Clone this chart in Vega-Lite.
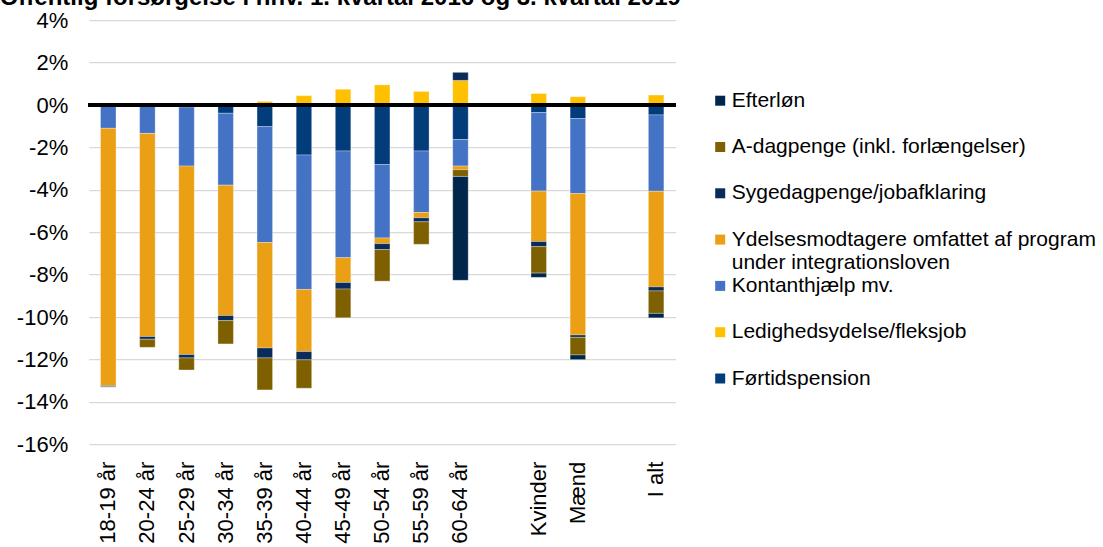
{
  "$schema": "https://vega.github.io/schema/vega-lite/v6.json",
  "width": 587,
  "height": 424,
  "autosize": {"type": "none"},
  "padding": {"left": 88.7, "top": 20.2, "right": 427.3, "bottom": 102.8},
  "background": "white",
  "title": {
    "text": "Offentlig forsørgelse i hhv. 1. kvartal 2016 og 3. kvartal 2019",
    "anchor": "start",
    "frame": "group",
    "dx": -89,
    "dy": 5,
    "fontSize": 24,
    "font": "Liberation Sans",
    "fontWeight": "bold",
    "color": "#000000"
  },
  "config": {
    "font": "Liberation Sans",
    "view": {"stroke": null}
  },
  "datasets": {
    "serier": [
      {"ydelse": "Førtidspension", "nr": 1},
      {"ydelse": "Ledighedsydelse/fleksjob", "nr": 2},
      {"ydelse": "Kontanthjælp mv.", "nr": 3},
      {"ydelse": "Ydelsesmodtagere omfattet af program under integrationsloven", "nr": 4},
      {"ydelse": "Sygedagpenge/jobafklaring", "nr": 5},
      {"ydelse": "A-dagpenge (inkl. forlængelser)", "nr": 6},
      {"ydelse": "Efterløn", "nr": 7}
    ],
    "rader": [
      {"gruppe": "18-19 år", "ydelse": "Førtidspension", "v": -0.05},
      {"gruppe": "18-19 år", "ydelse": "Kontanthjælp mv.", "v": -1.05},
      {"gruppe": "18-19 år", "ydelse": "Ydelsesmodtagere omfattet af program under integrationsloven", "v": -12.14},
      {"gruppe": "18-19 år", "ydelse": "Sygedagpenge/jobafklaring", "v": -0.05},
      {"gruppe": "18-19 år", "ydelse": "A-dagpenge (inkl. forlængelser)", "v": -0.02},

      {"gruppe": "20-24 år", "ydelse": "Førtidspension", "v": -0.03},
      {"gruppe": "20-24 år", "ydelse": "Kontanthjælp mv.", "v": -1.31},
      {"gruppe": "20-24 år", "ydelse": "Ydelsesmodtagere omfattet af program under integrationsloven", "v": -9.58},
      {"gruppe": "20-24 år", "ydelse": "Sygedagpenge/jobafklaring", "v": -0.13},
      {"gruppe": "20-24 år", "ydelse": "A-dagpenge (inkl. forlængelser)", "v": -0.38},

      {"gruppe": "25-29 år", "ydelse": "Førtidspension", "v": -0.1},
      {"gruppe": "25-29 år", "ydelse": "Kontanthjælp mv.", "v": -2.78},
      {"gruppe": "25-29 år", "ydelse": "Ydelsesmodtagere omfattet af program under integrationsloven", "v": -8.89},
      {"gruppe": "25-29 år", "ydelse": "Sygedagpenge/jobafklaring", "v": -0.16},
      {"gruppe": "25-29 år", "ydelse": "A-dagpenge (inkl. forlængelser)", "v": -0.57},

      {"gruppe": "30-34 år", "ydelse": "Førtidspension", "v": -0.39},
      {"gruppe": "30-34 år", "ydelse": "Kontanthjælp mv.", "v": -3.39},
      {"gruppe": "30-34 år", "ydelse": "Ydelsesmodtagere omfattet af program under integrationsloven", "v": -6.15},
      {"gruppe": "30-34 år", "ydelse": "Sygedagpenge/jobafklaring", "v": -0.24},
      {"gruppe": "30-34 år", "ydelse": "A-dagpenge (inkl. forlængelser)", "v": -1.1},

      {"gruppe": "35-39 år", "ydelse": "Ledighedsydelse/fleksjob", "v": 0.17},
      {"gruppe": "35-39 år", "ydelse": "Førtidspension", "v": -1.02},
      {"gruppe": "35-39 år", "ydelse": "Kontanthjælp mv.", "v": -5.47},
      {"gruppe": "35-39 år", "ydelse": "Ydelsesmodtagere omfattet af program under integrationsloven", "v": -4.97},
      {"gruppe": "35-39 år", "ydelse": "Sygedagpenge/jobafklaring", "v": -0.47},
      {"gruppe": "35-39 år", "ydelse": "A-dagpenge (inkl. forlængelser)", "v": -1.51},

      {"gruppe": "40-44 år", "ydelse": "Ledighedsydelse/fleksjob", "v": 0.44},
      {"gruppe": "40-44 år", "ydelse": "Førtidspension", "v": -2.36},
      {"gruppe": "40-44 år", "ydelse": "Kontanthjælp mv.", "v": -6.34},
      {"gruppe": "40-44 år", "ydelse": "Ydelsesmodtagere omfattet af program under integrationsloven", "v": -2.93},
      {"gruppe": "40-44 år", "ydelse": "Sygedagpenge/jobafklaring", "v": -0.39},
      {"gruppe": "40-44 år", "ydelse": "A-dagpenge (inkl. forlængelser)", "v": -1.34},

      {"gruppe": "45-49 år", "ydelse": "Ledighedsydelse/fleksjob", "v": 0.74},
      {"gruppe": "45-49 år", "ydelse": "Førtidspension", "v": -2.17},
      {"gruppe": "45-49 år", "ydelse": "Kontanthjælp mv.", "v": -5.03},
      {"gruppe": "45-49 år", "ydelse": "Ydelsesmodtagere omfattet af program under integrationsloven", "v": -1.17},
      {"gruppe": "45-49 år", "ydelse": "Sygedagpenge/jobafklaring", "v": -0.31},
      {"gruppe": "45-49 år", "ydelse": "A-dagpenge (inkl. forlængelser)", "v": -1.36},

      {"gruppe": "50-54 år", "ydelse": "Ledighedsydelse/fleksjob", "v": 0.95},
      {"gruppe": "50-54 år", "ydelse": "Førtidspension", "v": -2.81},
      {"gruppe": "50-54 år", "ydelse": "Kontanthjælp mv.", "v": -3.46},
      {"gruppe": "50-54 år", "ydelse": "Ydelsesmodtagere omfattet af program under integrationsloven", "v": -0.27},
      {"gruppe": "50-54 år", "ydelse": "Sygedagpenge/jobafklaring", "v": -0.28},
      {"gruppe": "50-54 år", "ydelse": "A-dagpenge (inkl. forlængelser)", "v": -1.49},

      {"gruppe": "55-59 år", "ydelse": "Ledighedsydelse/fleksjob", "v": 0.64},
      {"gruppe": "55-59 år", "ydelse": "Førtidspension", "v": -2.17},
      {"gruppe": "55-59 år", "ydelse": "Kontanthjælp mv.", "v": -2.9},
      {"gruppe": "55-59 år", "ydelse": "Ydelsesmodtagere omfattet af program under integrationsloven", "v": -0.25},
      {"gruppe": "55-59 år", "ydelse": "Sygedagpenge/jobafklaring", "v": -0.19},
      {"gruppe": "55-59 år", "ydelse": "A-dagpenge (inkl. forlængelser)", "v": -1.06},

      {"gruppe": "60-64 år", "ydelse": "Ledighedsydelse/fleksjob", "v": 1.16},
      {"gruppe": "60-64 år", "ydelse": "Sygedagpenge/jobafklaring", "v": 0.38},
      {"gruppe": "60-64 år", "ydelse": "Førtidspension", "v": -1.63},
      {"gruppe": "60-64 år", "ydelse": "Kontanthjælp mv.", "v": -1.25},
      {"gruppe": "60-64 år", "ydelse": "Ydelsesmodtagere omfattet af program under integrationsloven", "v": -0.17},
      {"gruppe": "60-64 år", "ydelse": "A-dagpenge (inkl. forlængelser)", "v": -0.32},
      {"gruppe": "60-64 år", "ydelse": "Efterløn", "v": -4.9},

      {"gruppe": "Kvinder", "ydelse": "Ledighedsydelse/fleksjob", "v": 0.54},
      {"gruppe": "Kvinder", "ydelse": "Førtidspension", "v": -0.36},
      {"gruppe": "Kvinder", "ydelse": "Kontanthjælp mv.", "v": -3.7},
      {"gruppe": "Kvinder", "ydelse": "Ydelsesmodtagere omfattet af program under integrationsloven", "v": -2.38},
      {"gruppe": "Kvinder", "ydelse": "Sygedagpenge/jobafklaring", "v": -0.24},
      {"gruppe": "Kvinder", "ydelse": "A-dagpenge (inkl. forlængelser)", "v": -1.25},
      {"gruppe": "Kvinder", "ydelse": "Efterløn", "v": -0.2},

      {"gruppe": "Mænd", "ydelse": "Ledighedsydelse/fleksjob", "v": 0.39},
      {"gruppe": "Mænd", "ydelse": "Førtidspension", "v": -0.64},
      {"gruppe": "Mænd", "ydelse": "Kontanthjælp mv.", "v": -3.54},
      {"gruppe": "Mænd", "ydelse": "Ydelsesmodtagere omfattet af program under integrationsloven", "v": -6.67},
      {"gruppe": "Mænd", "ydelse": "Sygedagpenge/jobafklaring", "v": -0.11},
      {"gruppe": "Mænd", "ydelse": "A-dagpenge (inkl. forlængelser)", "v": -0.83},
      {"gruppe": "Mænd", "ydelse": "Efterløn", "v": -0.22},

      {"gruppe": "I alt", "ydelse": "Ledighedsydelse/fleksjob", "v": 0.47},
      {"gruppe": "I alt", "ydelse": "Førtidspension", "v": -0.47},
      {"gruppe": "I alt", "ydelse": "Kontanthjælp mv.", "v": -3.6},
      {"gruppe": "I alt", "ydelse": "Ydelsesmodtagere omfattet af program under integrationsloven", "v": -4.51},
      {"gruppe": "I alt", "ydelse": "Sygedagpenge/jobafklaring", "v": -0.19},
      {"gruppe": "I alt", "ydelse": "A-dagpenge (inkl. forlængelser)", "v": -1.06},
      {"gruppe": "I alt", "ydelse": "Efterløn", "v": -0.21}
    ]
  },
  "data": {"name": "rader"},
  "transform": [
    {"lookup": "ydelse", "from": {"data": {"name": "serier"}, "key": "ydelse", "fields": ["nr"]}}
  ],
  "layer": [
    {
      "mark": {"type": "bar", "stroke": "#ffffff", "strokeWidth": 0.6, "strokeOpacity": 0.5},
      "encoding": {
        "x": {
          "field": "gruppe",
          "type": "nominal",
          "sort": null,
          "scale": {
            "domain": ["18-19 år", "20-24 år", "25-29 år", "30-34 år", "35-39 år", "40-44 år", "45-49 år", "50-54 år", "55-59 år", "60-64 år", "gap1", "Kvinder", "Mænd", "gap2", "I alt"],
            "paddingInner": 0.604,
            "paddingOuter": 0.302
          },
          "axis": {
            "title": null,
            "domain": false,
            "ticks": false,
            "labelAngle": -90,
            "labelFontSize": 22,
            "labelColor": "#000000",
            "labelPadding": 17,
            "labelExpr": "indexof(datum.value, 'gap') == 0 ? '' : datum.value"
          }
        },
        "y": {
          "field": "v",
          "type": "quantitative",
          "stack": "zero",
          "scale": {"domain": [-16, 4], "nice": false},
          "axis": {
            "title": null,
            "values": [-16, -14, -12, -10, -8, -6, -4, -2, 0, 2, 4],
            "labelExpr": "datum.value + '%'",
            "domain": false,
            "ticks": false,
            "grid": true,
            "gridColor": "#D9D9D9",
            "gridWidth": 1.3,
            "labelFontSize": 22,
            "labelColor": "#000000",
            "labelPadding": 21
          }
        },
        "order": {"field": "nr", "type": "quantitative", "sort": "ascending"},
        "color": {
          "field": "ydelse",
          "type": "nominal",
          "scale": {
            "domain": ["Førtidspension", "Ledighedsydelse/fleksjob", "Kontanthjælp mv.", "Ydelsesmodtagere omfattet af program under integrationsloven", "Sygedagpenge/jobafklaring", "A-dagpenge (inkl. forlængelser)", "Efterløn"],
            "range": ["#023C7A", "#FFC000", "#4472C4", "#EA9F15", "#0A2C5A", "#7F6000", "#00264C"]
          },
          "legend": {
            "title": null,
            "orient": "none",
            "legendX": 621,
            "legendY": 70,
            "padding": 0,
            "values": ["Efterløn", "A-dagpenge (inkl. forlængelser)", "Sygedagpenge/jobafklaring", "Ydelsesmodtagere omfattet af program under integrationsloven", "Kontanthjælp mv.", "Ledighedsydelse/fleksjob", "Førtidspension"],
            "symbolType": "square",
            "symbolSize": 100,
            "symbolStrokeWidth": 0,
            "labelFontSize": 21,
            "labelColor": "#000000",
            "labelLimit": 500,
            "labelOffset": 1,
            "rowPadding": 1.3,
            "labelExpr": "datum.label == 'Ydelsesmodtagere omfattet af program under integrationsloven' ? ['Ydelsesmodtagere omfattet af program', 'under integrationsloven'] : [datum.label, '']",
            "encode": {
              "labels": {"update": {"lineHeight": {"value": 22}, "dy": {"value": 11}}}
            }
          }
        }
      }
    },
    {
      "mark": {"type": "rule", "color": "#000000", "strokeWidth": 3.5},
      "encoding": {"y": {"datum": 0}}
    }
  ]
}
